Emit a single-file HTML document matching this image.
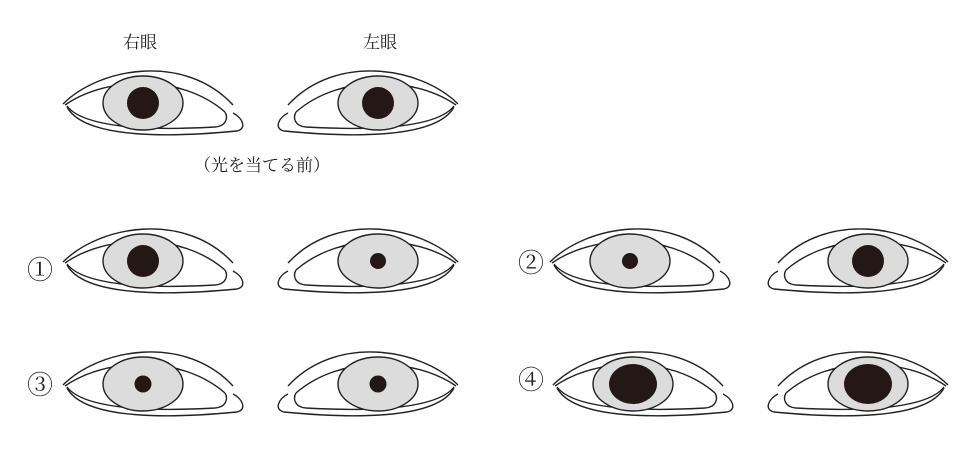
<!DOCTYPE html>
<html><head><meta charset="utf-8"><style>
html,body{margin:0;padding:0;background:#fff;}
svg{display:block}
text{font-family:"Liberation Serif","Noto Serif CJK SC",serif;fill:#222}
</style></head><body>
<svg width="980" height="449" viewBox="0 0 980 449" xmlns="http://www.w3.org/2000/svg">
<defs>
<g id="eye" fill="none" stroke="#222" stroke-width="1.4">
  <path d="M8,49 C45,12 130,-2 178,50"/>
  <path d="M10,50 C50,22 125,18 170,57"/>
  <path d="M12,51 C28,72 90,76 160,72 C172,71 173,62 170,57"/>
  <path d="M12,52 C30,85 120,82 182,76 C192,74 188,63 178,58"/>
  <ellipse cx="88" cy="48" rx="40" ry="27" fill="#dcdcdc"/>
</g>
</defs>
<g fill="#231815">
<use href="#eye" transform="translate(55,55)"/>
<circle cx="143" cy="103" r="16"/>
<use href="#eye" transform="translate(466,55) scale(-1,1)"/>
<circle cx="378" cy="103" r="16"/>
<use href="#eye" transform="translate(55,213)"/>
<circle cx="143" cy="261" r="16"/>
<use href="#eye" transform="translate(466,213) scale(-1,1)"/>
<circle cx="378" cy="261" r="8"/>
<use href="#eye" transform="translate(542,213)"/>
<circle cx="630" cy="261" r="8"/>
<use href="#eye" transform="translate(956,213) scale(-1,1)"/>
<circle cx="868" cy="261" r="16"/>
<use href="#eye" transform="translate(55,336)"/>
<circle cx="143" cy="384" r="8.5"/>
<use href="#eye" transform="translate(466,336) scale(-1,1)"/>
<circle cx="378" cy="384" r="8.5"/>
<use href="#eye" transform="translate(545,336)"/>
<ellipse cx="633" cy="384" rx="24" ry="20"/>
<use href="#eye" transform="translate(956,336) scale(-1,1)"/>
<ellipse cx="868" cy="384" rx="24" ry="20"/>
</g>
<text x="140" y="48" font-size="17" text-anchor="middle">右眼</text>
<text x="380" y="48" font-size="17" text-anchor="middle">左眼</text>
<text x="262" y="171" font-size="17" text-anchor="middle">（光を当てる前）</text>
<text x="40" y="279" font-size="26" text-anchor="middle">①</text>
<text x="40" y="394" font-size="26" text-anchor="middle">③</text>
<text x="531" y="272" font-size="26" text-anchor="middle">②</text>
<text x="531" y="389" font-size="26" text-anchor="middle">④</text>
</svg>
</body></html>
